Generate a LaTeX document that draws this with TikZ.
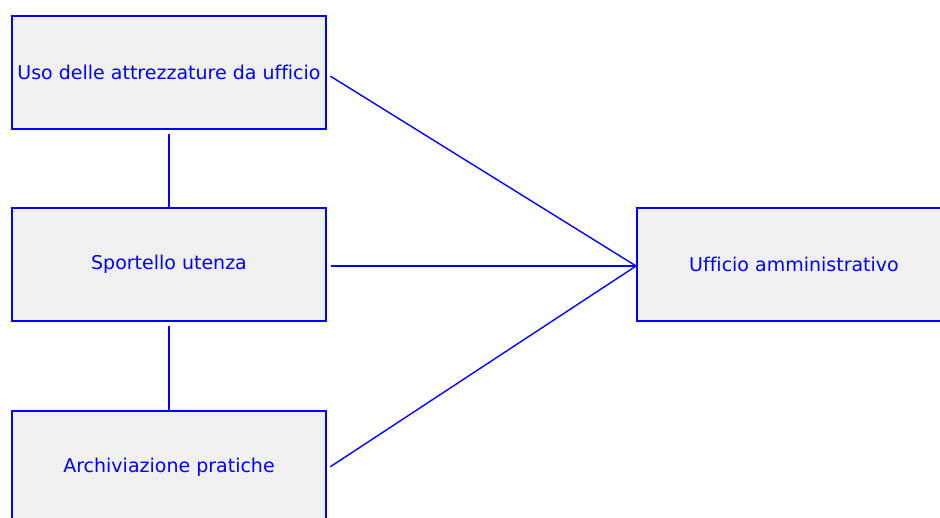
\documentclass[tikz,border=0pt]{standalone}
\usepackage{fontspec}
\setmainfont{DejaVu Sans}[Ligatures=NoCommon]
\definecolor{boxgray}{HTML}{F0F0F0}
\tikzset{x=1pt, y=-1pt,
    unitbox/.style={draw=blue, fill=boxgray, line width=1.8pt,
        minimum width=314pt, minimum height=113pt, inner sep=0pt,
        text=blue, font=\fontsize{19}{22}\selectfont},
    link/.style={draw=blue, line width=1.4pt},
    }
\begin{document}
\begin{tikzpicture}
\useasboundingbox (0,0) rectangle (940,517);
\node[unitbox] (uso) at (169,72.5) {Uso delle attrezzature da ufficio};
\node[unitbox] (sportello) at (169,264.5) {Sportello utenza};
\node[unitbox] (archivio) at (169,467.5) {Archiviazione pratiche};
\node[unitbox] (ufficio) at (794,264.5) {Ufficio amministrativo};
% links
\draw[link, shorten <=4pt] (uso) -- (sportello);
\draw[link, shorten <=4pt] (sportello) -- (archivio);
\draw[link, shorten <=4pt] ([yshift=-1.5pt]uso.east) -- ([yshift=-1.5pt]ufficio.west);
\draw[link, shorten <=4pt] ([yshift=-1.5pt]sportello.east) -- ([yshift=-1.5pt]ufficio.west);
\draw[link, shorten <=4pt] ([yshift=-1.5pt]archivio.east) -- ([yshift=-1.5pt]ufficio.west);
\end{tikzpicture}
\end{document}
